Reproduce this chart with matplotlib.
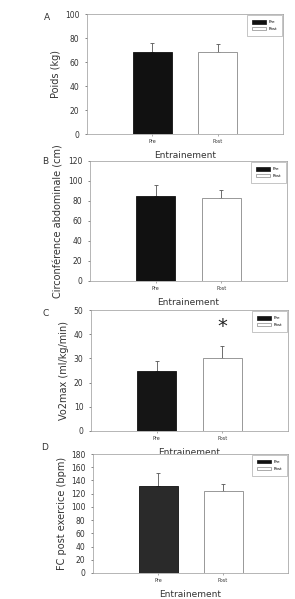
import matplotlib
matplotlib.use("Agg")
import matplotlib.pyplot as plt
from matplotlib.patches import Patch

categories = ["Pre", "Post"]
panel_letters = ["A", "B", "C", "D"]
ylabels = ["Poids (kg)", "Circonférence abdominale (cm)", "Vo2max (ml/kg/min)", "FC post exercice (bpm)"]
means_A = [68, 68]
err_A = [8, 7]
means_B = [85, 83]
err_B = [11, 8]
means_C = [25, 30]
err_C = [4, 5]
means_D = [132, 124]
err_D = [20, 10]
ymax = [100, 120, 50, 180]
ystep = [20, 20, 10, 20]
xlabel = "Entrainement"

means = [means_A, means_B, means_C, means_D]
errs = [err_A, err_B, err_C, err_D]

W, H = 295, 599
fig = plt.figure(figsize=(W / 100, H / 100), dpi=100)
fig.patch.set_facecolor("white")

# axes boxes in pixels: left, right, top, bottom
boxes = [(87, 283, 14, 134), (90, 287, 161, 281), (91, 288, 310, 431), (93, 288, 454, 573)]
letter_pos = [(47, 17), (45, 161), (46, 314), (45, 447)]
pre_colors = ["#111111", "#111111", "#151515", "#2a2a2a"]

for i in range(4):
    l, r, t, b = boxes[i]
    ax = fig.add_axes([l / W, 1 - b / H, (r - l) / W, (b - t) / H])
    x = list(range(len(categories)))
    ax.bar(x, means[i], width=0.6, color=[pre_colors[i], "white"],
           edgecolor=["#111111", "#888888"], linewidth=0.6, zorder=2)
    ax.errorbar(x, means[i], yerr=[[0, 0], errs[i]], fmt="none", ecolor="#555555",
                elinewidth=0.6, capsize=1.2, capthick=0.6, zorder=1)
    ax.set_xlim(-1, 2)
    ax.set_ylim(0, ymax[i])
    ax.set_yticks(range(0, ymax[i] + 1, ystep[i]))
    ax.set_xticks(x)
    ax.set_xticklabels(categories, fontsize=3.5, color="#333333")
    ax.tick_params(axis="y", labelsize=5.5, length=1.5, width=0.5, colors="#555555", labelcolor="#333333", pad=4)
    ax.tick_params(axis="x", length=1.5, width=0.5, colors="#888888", labelcolor="#333333", pad=2)
    for s in ax.spines.values():
        s.set_linewidth(0.5)
        s.set_color("#999999")
    ax.set_ylabel(ylabels[i], fontsize=7, color="#333333", labelpad=3)
    ax.set_xlabel(xlabel, fontsize=6.5, color="#333333", labelpad=5)
    leg = ax.legend(handles=[Patch(facecolor="#111111", edgecolor="#111111", linewidth=0.5),
                             Patch(facecolor="white", edgecolor="#888888", linewidth=0.5)],
                    labels=categories, loc="upper right", fontsize=3, frameon=True,
                    fancybox=False, edgecolor="#999999", handlelength=3.5, handleheight=0.9,
                    borderpad=1.2, labelspacing=0.6, handletextpad=0.5, borderaxespad=0.25)
    leg.get_frame().set_linewidth(0.5)
    if i == 2:
        ax.text(1, 43, "*", ha="center", va="center", fontsize=14, color="#222222")
    lx, ly = letter_pos[i]
    fig.text(lx / W, 1 - ly / H, panel_letters[i], fontsize=6.5, ha="center", va="center", color="#333333")

fig.savefig("out.png", dpi=100, facecolor="white")
